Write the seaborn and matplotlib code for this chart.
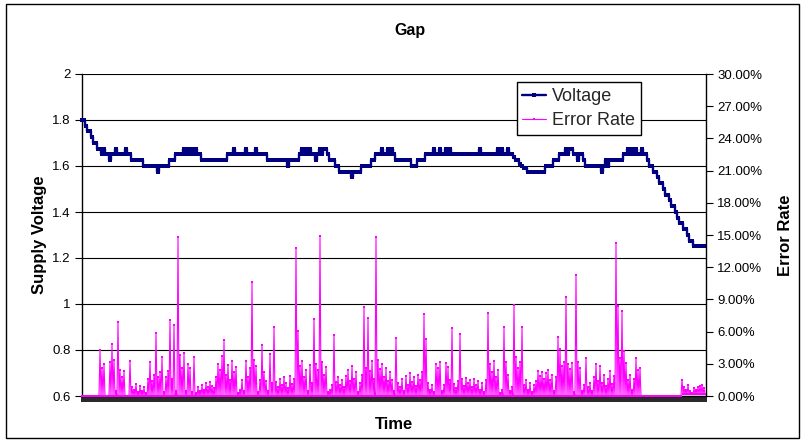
import numpy as np
import pandas as pd
import matplotlib
matplotlib.use("Agg")
import matplotlib.pyplot as plt
import seaborn as sns
from matplotlib.patches import Rectangle

# ---------------- data ----------------
title = "Gap"
x_label = "Time"
left_label = "Supply Voltage"
right_label = "Error Rate"
series_names = ["Voltage", "Error Rate"]

# Supply voltage, run-length encoded: level and number of consecutive readings
volt_levels = [1.8, 1.775, 1.75, 1.725, 1.7, 1.675, 1.65, 1.675, 1.65, 1.625,
               1.65, 1.675, 1.65, 1.675, 1.65, 1.625, 1.6, 1.575, 1.6, 1.625,
               1.65, 1.675, 1.65, 1.675, 1.65, 1.675, 1.65, 1.675, 1.65, 1.625,
               1.65, 1.675, 1.65, 1.675, 1.65, 1.675, 1.65, 1.625, 1.6, 1.625,
               1.65, 1.675, 1.65, 1.675, 1.65, 1.675, 1.65, 1.625, 1.65, 1.675,
               1.65, 1.675, 1.65, 1.625, 1.6, 1.575, 1.55, 1.575, 1.6, 1.625,
               1.65, 1.675, 1.65, 1.675, 1.65, 1.675, 1.65, 1.625, 1.6, 1.625,
               1.65, 1.675, 1.65, 1.675, 1.65, 1.675, 1.65, 1.675, 1.65, 1.675,
               1.65, 1.675, 1.65, 1.675, 1.65, 1.675, 1.65, 1.64, 1.625, 1.61,
               1.6, 1.59, 1.575, 1.6, 1.625, 1.65, 1.675, 1.65, 1.675, 1.65,
               1.625, 1.65, 1.625, 1.6, 1.575, 1.6, 1.625, 1.6, 1.625, 1.65,
               1.675, 1.65, 1.675, 1.65, 1.675, 1.65, 1.675, 1.65, 1.625, 1.6,
               1.575, 1.55, 1.525, 1.5, 1.475, 1.45, 1.425, 1.4, 1.375, 1.35,
               1.325, 1.3, 1.275, 1.25]
volt_counts = [2, 1, 2, 1, 2, 2, 1, 1, 2, 1,
               2, 1, 4, 1, 2, 6, 7, 1, 5, 3,
               4, 1, 1, 1, 1, 1, 1, 1, 2, 13,
               3, 1, 5, 1, 4, 1, 5, 10, 1, 5,
               1, 1, 1, 1, 1, 1, 2, 1, 1, 1,
               1, 2, 1, 3, 2, 6, 1, 4, 5, 2,
               3, 1, 2, 1, 1, 1, 1, 8, 3, 4,
               4, 1, 2, 1, 2, 1, 1, 1, 14, 1,
               8, 1, 1, 1, 2, 1, 2, 1, 2, 1,
               1, 2, 9, 4, 3, 3, 1, 1, 2, 2,
               1, 2, 1, 8, 1, 1, 1, 1, 7, 2,
               1, 1, 1, 1, 1, 2, 1, 2, 1, 2,
               2, 1, 2, 1, 2, 1, 2, 1, 1, 2,
               2, 1, 2, 6]

# Error rate in percent: upper readings (burst tops), one per pair of samples
error_rate_pct = [
    0, 0, 0, 0, 0, 0, 0, 0, 0, 4.3,
    2.6, 3.0, 0, 0, 3.2, 4.8, 3.4, 0.5, 6.9, 2.4,
    1.8, 2.3, 0, 0, 3.3, 0.8, 0.6, 1.1, 0.4, 0.9,
    0.5, 0.8, 0.3, 1.6, 3.2, 1.4, 2.0, 5.9, 1.8, 2.2,
    3.6, 0.4, 1.8, 2.3, 7.1, 1.6, 6.6, 0.5, 14.8, 3.8,
    2.6, 4.0, 0.5, 3.0, 2.6, 0.4, 3.6, 0.3, 0.8, 0.5,
    1.0, 0.6, 1.2, 0.8, 1.3, 0.9, 0.7, 1.8, 3.0, 2.4,
    3.7, 5.2, 2.0, 2.9, 1.5, 3.3, 2.2, 2.7, 0.3, 0.6,
    1.5, 0.5, 3.3, 1.8, 2.6, 10.6, 3.4, 2.8, 0.4, 1.5,
    4.75, 2.2, 1.4, 0.5, 3.9, 1.2, 6.4, 1.3, 0.8, 1.6,
    1.0, 1.8, 1.2, 0.7, 1.9, 1.1, 1.6, 13.8, 6.1, 2.8,
    3.3, 1.8, 2.4, 0.5, 2.9, 1.2, 7.2, 3.0, 2.4, 14.9,
    3.2, 2.0, 2.7, 0.4, 0.6, 1.0, 5.7, 1.3, 1.8, 1.0,
    1.5, 0.8, 1.9, 2.4, 1.4, 2.8, 1.6, 2.2, 0.4, 1.2,
    2.0, 8.3, 2.6, 7.3, 2.3, 3.3, 1.6, 14.8, 3.4, 2.5,
    3.0, 1.8, 2.6, 1.4, 2.2, 1.5, 0.5, 5.4, 1.2, 0.8,
    1.6, 0.5, 1.9, 1.0, 2.1, 1.3, 1.8, 0.9, 2.0, 1.5,
    2.2, 7.6, 5.3, 1.2, 0.6, 1.0, 0.4, 3.0, 2.6, 3.2,
    0.5, 1.0, 3.1, 2.7, 1.5, 6.3, 1.1, 0.7, 1.4, 5.8,
    1.6, 0.9, 1.7, 1.2, 1.5, 0.8, 1.6, 1.0, 1.4, 0.6,
    1.2, 0.4, 1.5, 7.7, 3.0, 2.2, 3.3, 1.8, 2.4, 0.3,
    0.6, 6.4, 3.2, 2.0, 0.5, 0.8, 8.5, 3.6, 2.6, 3.2,
    6.4, 1.0, 1.5, 0.6, 1.2, 0.4, 1.0, 1.4, 2.3, 1.9,
    2.2, 1.6, 2.1, 2.4, 1.5, 2.0, 0.5, 1.8, 5.5, 4.4,
    2.8, 3.2, 9.2, 3.0, 2.5, 3.1, 0.4, 11.3, 3.2, 2.6,
    0.5, 1.0, 3.5, 0.8, 1.2, 0.5, 1.8, 3.0, 1.4, 2.8,
    1.2, 2.0, 0.9, 1.6, 2.3, 1.1, 1.9, 14.3, 8.4, 3.5,
    7.9, 4.2, 3.1, 1.5, 2.0, 0.6, 1.6, 3.5, 2.4, 2.6,
    0, 0, 0, 0, 0, 0, 0, 0, 0, 0,
    0, 0, 0, 0, 0, 0, 0, 0, 0, 0,
    1.5, 0.8, 0.6, 1.0, 0.5, 0.3, 0.7, 0.6, 0.8, 0.9,
    1.0, 0.7]

# Error rate in percent: lower readings between the tops (run-length encoded)
error_low_levels = [0.0, 0.2]
error_low_counts = [300, 12]

left_ticks = [0.6, 0.8, 1.0, 1.2, 1.4, 1.6, 1.8, 2.0]
left_tick_labels = ["0.6", "0.8", "1", "1.2", "1.4", "1.6", "1.8", "2"]
right_ticks = [0, 3, 6, 9, 12, 15, 18, 21, 24, 27, 30]
right_tick_labels = ["0.00%", "3.00%", "6.00%", "9.00%", "12.00%", "15.00%",
                     "18.00%", "21.00%", "24.00%", "27.00%", "30.00%"]

# ---------------- build frames ----------------
n_pairs = len(error_rate_pct)
n = 2 * n_pairs
err = np.empty(n)
err[0::2] = np.asarray(error_rate_pct, dtype=float)
err[1::2] = np.repeat(error_low_levels, error_low_counts)
df_err = pd.DataFrame({"Time": np.arange(n), "Error Rate": err})

voltage = np.repeat(volt_levels, volt_counts)
df_v = pd.DataFrame({"Time": np.arange(len(voltage)) * 2, "Voltage": voltage})

# ---------------- style ----------------
sns.set_theme(style="white")
plt.rcParams["font.family"] = ["Liberation Sans", "DejaVu Sans"]

W, H = 804, 444
fig = plt.figure(figsize=(W / 100, H / 100), dpi=100)
fig.patch.set_facecolor("white")
ax = fig.add_axes([82 / W, (H - 396) / H, 624 / W, 322 / H])
ax2 = ax.twinx()

sns.lineplot(data=df_v, x="Time", y="Voltage", ax=ax, color="#000080",
             linewidth=1.7, marker="s", markersize=3.0, markeredgewidth=0,
             drawstyle="steps-mid", label=series_names[0], legend=False,
             clip_on=False, zorder=3)
sns.lineplot(data=df_err, x="Time", y="Error Rate", ax=ax2, color="#FF00FF",
             linewidth=0.8, marker="s", markersize=1.5, markeredgewidth=0,
             label=series_names[1], legend=False, clip_on=False, zorder=3)

for a in (ax, ax2):
    if a.get_legend() is not None:
        a.get_legend().remove()

ax.set_xlim(0, n)
ax.set_ylim(0.6, 2.0)
ax2.set_ylim(0, 30)

ax.set_yticks(left_ticks)
ax.set_yticklabels(left_tick_labels)
ax2.set_yticks(right_ticks)
ax2.set_yticklabels(right_tick_labels)
ax.set_xticks(np.arange(0, n + 1, 2))
ax.set_xticklabels([])

ax.grid(axis="y", color="black", linewidth=0.8)
ax.grid(axis="x", visible=False)
ax2.grid(False)
ax.set_axisbelow(True)

ax.tick_params(axis="y", left=True, direction="out", length=5, width=0.8,
               color="black", labelsize=9.5, pad=3, labelcolor="black")
ax.tick_params(axis="x", bottom=True, direction="out", length=4, width=1.2,
               color="black", labelbottom=False)
ax2.tick_params(axis="y", right=True, direction="out", length=5, width=0.8,
                color="black", labelsize=9.5, pad=3, labelcolor="black")

ax.spines["top"].set_visible(False)
ax2.spines["top"].set_visible(False)
ax.spines["right"].set_visible(False)
ax2.spines["left"].set_visible(False)
ax2.spines["bottom"].set_visible(False)
for sp in (ax.spines["left"], ax.spines["bottom"], ax2.spines["right"]):
    sp.set_color("black")
    sp.set_linewidth(1.0)

ax.set_xlabel(x_label, fontsize=12, fontweight="bold", labelpad=11, color="black")
ax.set_ylabel(left_label, fontsize=12, fontweight="bold", labelpad=4, color="black")
ax2.set_ylabel(right_label, fontsize=12, fontweight="bold", labelpad=11,
               rotation=90, color="black")

fig.text(410 / W, 1 - 30 / H, title, ha="center", va="center",
         fontsize=11.5, fontweight="bold", color="black")

h1, l1 = ax.get_legend_handles_labels()
h2, l2 = ax2.get_legend_handles_labels()
leg = ax2.legend(h1 + h2, l1 + l2, loc="upper left",
                 bbox_to_anchor=(517 / W, 1 - 82.5 / H),
                 bbox_transform=fig.transFigure, borderaxespad=0,
                 fontsize=13, frameon=True, fancybox=False, framealpha=1,
                 edgecolor="black", handlelength=1.3, handletextpad=0.35,
                 labelspacing=0.4, borderpad=0.3, numpoints=1)
leg.get_frame().set_linewidth(1.0)
leg.set_zorder(10)

# outer chart border
fig.patches.append(Rectangle((6 / W, 1 - 438 / H), (799 - 6) / W, (438 - 4) / H,
                             transform=fig.transFigure, fill=False,
                             edgecolor="black", linewidth=1.0))

fig.savefig("out.png", dpi=100, facecolor="white")
